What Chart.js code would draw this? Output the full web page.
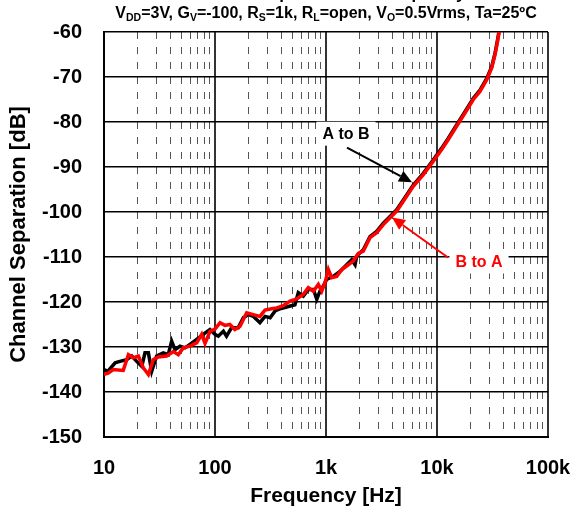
<!DOCTYPE html>
<html lang="en">
<head>
  <meta charset="UTF-8">
  <title>Channel Separation vs. Frequency</title>
  <script src="https://cdn.jsdelivr.net/npm/chart.js"></script>
  <style>
    html, body { margin: 0; padding: 0; background: #fff; }
    .wrap { position: relative; width: 573px; height: 513px; }
  </style>
</head>
<body>

<div class="wrap">
  <canvas id="grafico"></canvas>
</div>

<script>
  // frequency axis (Hz) and its decade labels
  const xDecades = [10, 100, 1000, 10000, 100000];
  const xTickLabels = ['10', '100', '1k', '10k', '100k'];

  // A to B (black)
  const abFreq = [10, 10.8, 12.6, 13.9, 16.0, 17.8, 19.7, 21.9, 23.4, 25.1,
    26.9, 29.8, 34.2, 37.9, 40.7, 43.6, 48.4, 53.6, 59.5, 68.4,
    78.4, 90.0, 100, 107, 119, 127, 141, 162, 180, 200,
    222, 254, 282, 314, 348, 386, 442, 525, 563, 625,
    694, 770, 826, 881, 942, 1013, 1162, 1336, 1537, 1705,
    1827, 1890, 2168, 2489, 2862, 3284, 3640, 4335, 4969, 6111,
    7530, 9270, 11020, 12640, 15060, 17870, 21240, 24390, 28050, 31110,
    33330, 34930, 36410];
  const abDb = [-135.0, -135.4, -133.5, -133.2, -132.8, -132.0, -133.2, -134.3, -131.3, -131.3,
    -135.4, -132.0, -131.3, -131.7, -128.7, -130.6, -129.8, -130.2, -129.4, -128.3,
    -127.2, -126.1, -127.2, -127.6, -126.5, -127.6, -125.7, -125.7, -123.5, -122.8,
    -123.2, -124.6, -123.2, -123.5, -122.0, -121.5, -121.1, -120.6, -117.9, -118.7,
    -117.2, -117.2, -119.4, -117.6, -116.5, -115.0, -114.3, -113.2, -111.7, -110.6,
    -111.7, -109.8, -108.4, -105.5, -104.3, -102.5, -101.4, -99.5, -97.3, -94.0,
    -91.4, -88.4, -85.8, -83.6, -80.6, -77.7, -74.7, -72.9, -70.3, -67.7,
    -64.7, -62.1, -59.5];

  // B to A (red)
  const baFreq = [10, 10.9, 12.1, 14.9, 16.6, 18.4, 20.4, 22.6, 25.1, 27.8,
    30.8, 36.7, 42.1, 46.7, 51.8, 59.5, 68.4, 75.9, 81.3, 90.2,
    100, 111, 123, 136, 151, 168, 193, 221, 254, 282,
    324, 360, 412, 474, 545, 624, 693, 769, 853, 915,
    980, 1050, 1125, 1248, 1384, 1535, 1762, 1955, 2168, 2489,
    2862, 3284, 3774, 4335, 4969, 6111, 7530, 9270, 11020, 12640,
    15060, 17870, 21240, 24390, 28050, 31110, 33330, 34930, 36410];
  const baDb = [-136.1, -135.8, -135.0, -135.2, -131.7, -132.4, -132.0, -134.6, -136.1, -132.8,
    -132.2, -132.0, -131.0, -131.7, -130.2, -129.8, -129.1, -127.2, -129.2, -126.5,
    -126.0, -124.6, -125.2, -125.0, -126.1, -125.4, -122.4, -122.8, -123.2, -121.8,
    -121.5, -121.3, -120.8, -119.8, -119.3, -118.3, -116.8, -117.6, -116.1, -117.6,
    -115.7, -112.8, -114.6, -114.3, -112.8, -112.0, -110.9, -109.2, -108.7, -105.7,
    -104.6, -102.8, -101.3, -99.8, -97.6, -94.3, -91.7, -88.7, -86.1, -83.9,
    -80.9, -78.0, -75.0, -73.2, -70.6, -68.0, -65.0, -62.4, -59.8];

  const yMin = -150, yMax = -60, yStep = 5;

  // title (second line has subscripts: [text, isSub])
  const tituloLinha1 = 'Channel Separation vs. Frequency';
  const tituloLinha2 = [
    ['V', 0], ['DD', 1], ['=3V, G', 0], ['V', 1], ['=-100, R', 0], ['S', 1],
    ['=1k, R', 0], ['L', 1], ['=open, V', 0], ['O', 1], ['=0.5Vrms, Ta=25ºC', 0]
  ];

  // annotations: label position and arrow (tail -> tip), in Hz / dB
  const notaAB = { text: 'A to B', at: [1514, -82.6], from: [1545, -85.7], to: [5957, -93.4], color: '#000' };
  const notaBA = { text: 'B to A', at: [23900, -111.0], from: [12560, -110.1], to: [3936, -101.2], color: '#ff0000' };

  const FONTE = '"Liberation Sans", Arial, sans-serif';

  function isDecade(v) {
    const l = Math.log10(v);
    return Math.abs(l - Math.round(l)) < 1e-6;
  }

  function pontos(xs, ys) {
    return xs.map((x, i) => ({ x, y: ys[i] }));
  }

  function seta(ctx, x1, y1, x2, y2, cor, largura, cab, meia) {
    const ang = Math.atan2(y2 - y1, x2 - x1);
    const bx = x2 - cab * Math.cos(ang), by = y2 - cab * Math.sin(ang);
    ctx.save();
    ctx.strokeStyle = cor;
    ctx.fillStyle = cor;
    ctx.lineWidth = largura;
    ctx.beginPath();
    ctx.moveTo(x1, y1);
    ctx.lineTo(bx, by);
    ctx.stroke();
    ctx.beginPath();
    ctx.moveTo(x2, y2);
    ctx.lineTo(bx + meia * Math.sin(ang), by - meia * Math.cos(ang));
    ctx.lineTo(bx - meia * Math.sin(ang), by + meia * Math.cos(ang));
    ctx.closePath();
    ctx.fill();
    ctx.restore();
  }

  const tituloPlugin = {
    id: 'titulo',
    afterDraw(chart) {
      const { ctx, chartArea } = chart;
      const cx = (chartArea.left + chartArea.right) / 2;
      ctx.save();
      ctx.fillStyle = '#000';
      ctx.textBaseline = 'alphabetic';
      ctx.font = 'bold 17px ' + FONTE;
      ctx.textAlign = 'center';
      ctx.fillText(tituloLinha1, cx, -1);

      ctx.textAlign = 'left';
      const normal = 'bold 16px ' + FONTE, sub = 'bold 10.5px ' + FONTE;
      let w = 0;
      tituloLinha2.forEach(([t, s]) => { ctx.font = s ? sub : normal; w += ctx.measureText(t).width; });
      let x = cx - w / 2;
      const base = 18;
      tituloLinha2.forEach(([t, s]) => {
        ctx.font = s ? sub : normal;
        ctx.fillText(t, x, s ? base + 3 : base);
        x += ctx.measureText(t).width;
      });
      ctx.restore();
    }
  };

  const notasPlugin = {
    id: 'notas',
    afterDatasetsDraw(chart) {
      const { ctx } = chart;
      const xs = chart.scales.x, ys = chart.scales.y;
      [notaAB, notaBA].forEach(n => {
        const px = v => xs.getPixelForValue(v[0]);
        const py = v => ys.getPixelForValue(v[1]);
        ctx.save();
        ctx.font = 'bold 16px ' + FONTE;
        const tw = ctx.measureText(n.text).width;
        const lx = px(n.at), ly = py(n.at);
        ctx.fillStyle = '#fff';
        ctx.fillRect(lx - tw / 2 - 6, ly - 12, tw + 12, 24);
        seta(ctx, px(n.from), py(n.from), px(n.to), py(n.to), n.color, 2, 13, 6);
        ctx.fillStyle = n.color;
        ctx.textAlign = 'center';
        ctx.textBaseline = 'middle';
        ctx.fillText(n.text, lx, ly + 1);
        ctx.restore();
      });
    }
  };

  const tickOpts = ctx => ctx.type === 'tick';

  new Chart(document.getElementById('grafico'), {
    type: 'line',
    data: {
      datasets: [
        {
          label: 'A to B',
          data: pontos(abFreq, abDb),
          borderColor: '#000',
          borderWidth: 3.5,
          pointRadius: 0,
          tension: 0,
          order: 2
        },
        {
          label: 'B to A',
          data: pontos(baFreq, baDb),
          borderColor: '#ff0000',
          borderWidth: 3.5,
          pointRadius: 0,
          tension: 0,
          order: 1
        }
      ]
    },
    options: {
      responsive: true,
      maintainAspectRatio: false,
      animation: false,
      layout: { padding: { top: 32, right: 25, left: 0, bottom: 0 } },
      plugins: {
        legend: { display: false },
        tooltip: { enabled: false }
      },
      scales: {
        x: {
          type: 'logarithmic',
          min: xDecades[0],
          max: xDecades[xDecades.length - 1],
          afterBuildTicks: s => {
            const t = [];
            xDecades.forEach((d, i) => {
              if (i === xDecades.length - 1) { t.push({ value: d }); return; }
              for (let m = 1; m <= 9; m++) t.push({ value: m * d });
            });
            s.ticks = t;
          },
          afterFit: s => { s.height = 76; s.paddingLeft = 0; s.paddingRight = 0; },
          ticks: {
            autoSkip: false,
            maxRotation: 0,
            padding: 19,
            color: '#000',
            font: { family: FONTE, size: 20, weight: 'bold' },
            callback: v => {
              const i = xDecades.findIndex(d => Math.abs(d - v) < 1e-6 * d);
              return i >= 0 ? xTickLabels[i] : '';
            }
          },
          grid: {
            drawTicks: false,
            color: c => tickOpts(c) && isDecade(c.tick.value) ? '#333' : '#555',
            lineWidth: c => tickOpts(c) && isDecade(c.tick.value) ? 2 : 1
          },
          border: {
            display: true,
            color: '#000',
            width: 2,
            dash: c => tickOpts(c) && !isDecade(c.tick.value) ? [7, 8] : []
          },
          title: {
            display: true,
            text: 'Frequency [Hz]',
            color: '#000',
            padding: { top: 0, bottom: 4 },
            font: { family: FONTE, size: 21, weight: 'bold' }
          }
        },
        y: {
          min: yMin,
          max: yMax,
          afterFit: s => { s.width = 104; s.paddingTop = 0; s.paddingBottom = 0; },
          ticks: {
            stepSize: yStep,
            padding: 22,
            color: '#000',
            font: { family: FONTE, size: 20, weight: 'bold' },
            callback: v => v % 10 === 0 ? String(v) : ''
          },
          grid: {
            drawTicks: false,
            color: c => tickOpts(c) && c.tick.value % 10 === 0 ? '#000' : '#222',
            lineWidth: c => tickOpts(c) && c.tick.value % 10 === 0 ? 1.5 : 1
          },
          border: {
            display: true,
            color: '#000',
            width: 2,
            dash: c => tickOpts(c) && c.tick.value % 10 !== 0 ? [8, 7] : []
          },
          title: {
            display: true,
            text: 'Channel Separation [dB]',
            color: '#000',
            padding: { top: 6, bottom: 0 },
            font: { family: FONTE, size: 22, weight: 'bold' }
          }
        }
      }
    },
    plugins: [tituloPlugin, notasPlugin]
  });
</script>

</body>
</html>
